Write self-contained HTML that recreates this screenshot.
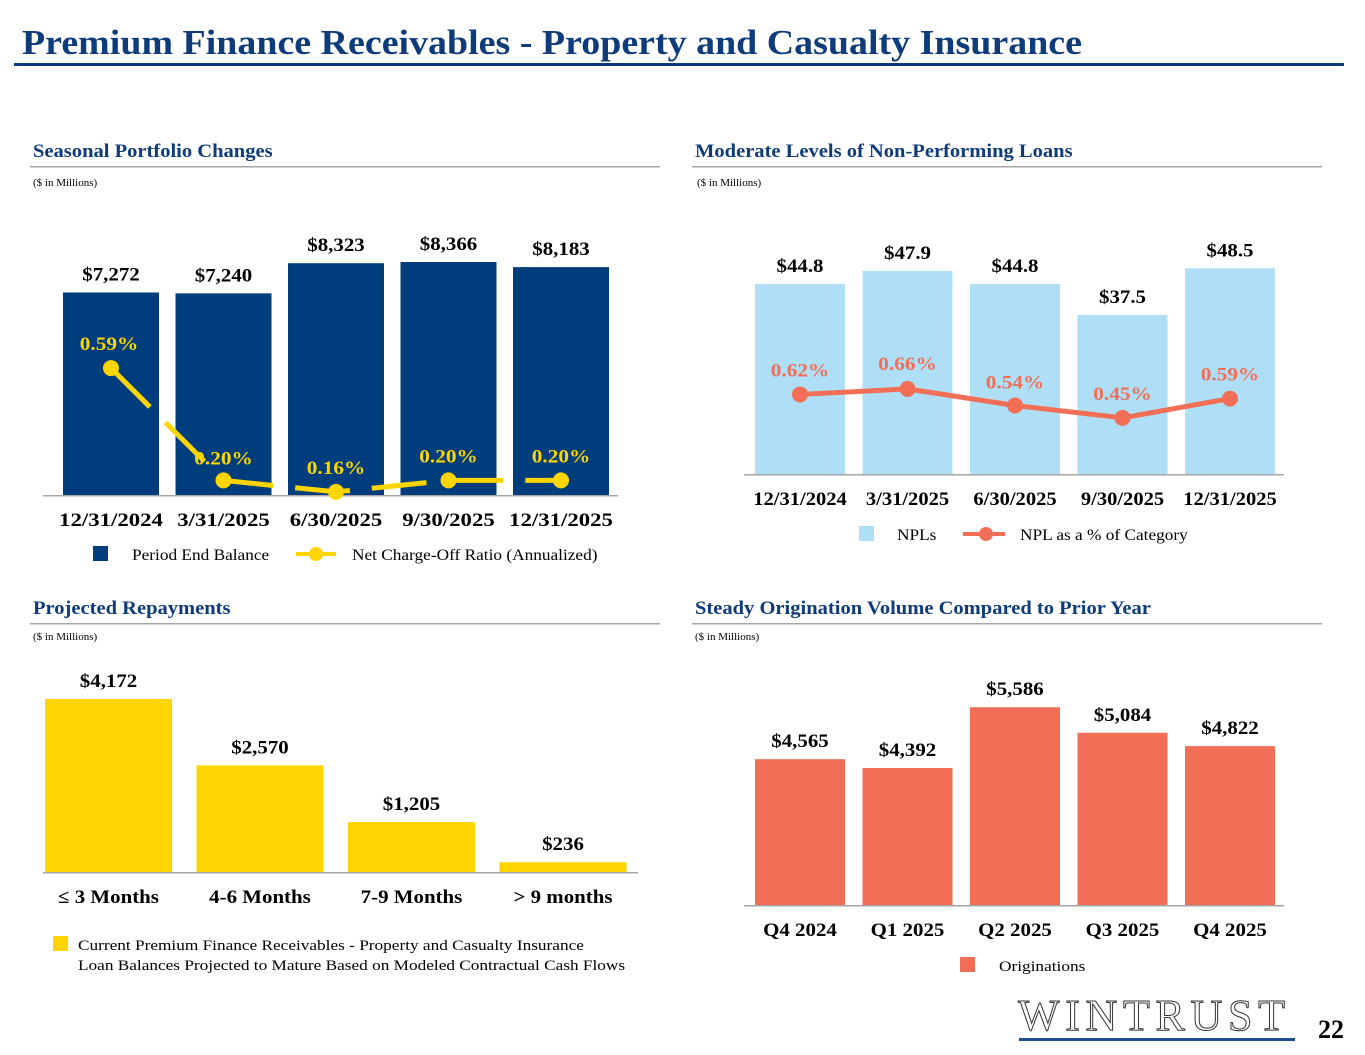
<!DOCTYPE html>
<html><head><meta charset="utf-8"><style>
body{margin:0;width:1365px;height:1055px;background:#fff;overflow:hidden;font-family:"Liberation Serif",serif}
svg{display:block}
</style></head><body>
<svg id="s" width="1365" height="1055">
<text x="22" y="54" font-size="35" font-weight="bold" fill="#0E3C7A" textLength="1060" lengthAdjust="spacingAndGlyphs">Premium Finance Receivables - Property and Casualty Insurance</text>
<rect x="14" y="63" width="1330" height="3" fill="#0E3C7A"/>
<g font-weight="bold" font-size="18.5" fill="#0E3C7A">
<text x="33" y="157" data-sx="1.11">Seasonal Portfolio Changes</text>
<text x="695" y="157" data-sx="1.11">Moderate Levels of Non-Performing Loans</text>
<text x="33" y="614" data-sx="1.11">Projected Repayments</text>
<text x="695" y="614" data-sx="1.11">Steady Origination Volume Compared to Prior Year</text>
</g>
<g fill="#A6A6A6"><rect x="30" y="166" width="630" height="1.5"/><rect x="692" y="166" width="630" height="1.5"/><rect x="30" y="623" width="630" height="1.5"/><rect x="692" y="623" width="630" height="1.5"/></g>
<g font-size="11" fill="#000">
<text x="33" y="186">($ in Millions)</text><text x="697" y="186">($ in Millions)</text>
<text x="33" y="640">($ in Millions)</text><text x="695" y="640">($ in Millions)</text>
</g>
<g id="c1"></g><g id="c2"></g><g id="c3"></g><g id="c4"></g>
<g font-size="16" fill="#000">
<rect x="93" y="546" width="15" height="15" fill="#003D7C"/><text x="132" y="560" data-sx="1.08">Period End Balance</text>
<line x1="296" y1="554" x2="336" y2="554" stroke="#FFD500" stroke-width="4"/><circle cx="316" cy="554" r="7" fill="#FFD500"/><text x="352" y="560" data-sx="1.08">Net Charge-Off Ratio (Annualized)</text>
<rect x="859" y="526" width="15" height="15" fill="#AEDFF7"/><text x="897" y="540" data-sx="1.08">NPLs</text>
<line x1="963" y1="534" x2="1005" y2="534" stroke="#F26E57" stroke-width="4"/><circle cx="986" cy="534" r="7" fill="#F26E57"/><text x="1020" y="540" data-sx="1.08">NPL as a % of Category</text>
<rect x="53" y="936" width="15" height="15" fill="#FFD500"/><text x="78" y="950" font-size="15" data-sx="1.15">Current Premium Finance Receivables - Property and Casualty Insurance</text><text x="78" y="970" font-size="15" data-sx="1.15">Loan Balances Projected to Mature Based on Modeled Contractual Cash Flows</text>
<rect x="960" y="957" width="15" height="15" fill="#F26E57"/><text x="999" y="971" font-size="15" data-sx="1.15">Originations</text>
</g>
<g>
<text x="1018" y="1030" font-size="44" fill="#fff" stroke="#333" stroke-width="1" letter-spacing="1" textLength="268">WINTRUST</text>
<rect x="1019" y="1038" width="276" height="3" fill="#1F4E8C"/>
<text x="1318" y="1038" font-size="26" font-weight="bold" fill="#000">22</text>
</g>
</svg>
<script>
const ns="http://www.w3.org/2000/svg";
function mk(p,t,a,txt){const e=document.createElementNS(ns,t);for(const k in a)e.setAttribute(k,a[k]);if(txt!=null)e.textContent=txt;p.appendChild(e);return e;}
// Chart 1
const c1Cats=["12/31/2024","3/31/2025","6/30/2025","9/30/2025","12/31/2025"];
const c1Bal=[7272,7240,8323,8366,8183];
const c1Nco=[0.59,0.20,0.16,0.20,0.20];
// Chart 2
const c2Cats=["12/31/2024","3/31/2025","6/30/2025","9/30/2025","12/31/2025"];
const c2Npl=[44.8,47.9,44.8,37.5,48.5];
const c2Pct=[0.62,0.66,0.54,0.45,0.59];
// Chart 3
const c3Cats=["≤ 3 Months","4-6 Months","7-9 Months","> 9 months"];
const c3Vals=[4172,2570,1205,236];
// Chart 4
const c4Cats=["Q4 2024","Q1 2025","Q2 2025","Q3 2025","Q4 2025"];
const c4Vals=[4565,4392,5586,5084,4822];
const fmt=v=>"$"+v.toLocaleString("en-US");

function bars(g,cats,vals,o){
  mk(g,"rect",{x:o.ax0,y:o.base,width:o.ax1-o.ax0,height:1.5,fill:"#A6A6A6"});
  cats.forEach((c,i)=>{
    const cx=o.x0+i*o.step, v=vals[i], h=(v-o.min)*o.k, y=o.base-h;
    const b=mk(g,"rect",{x:cx-o.w/2,y:y,width:o.w,height:h,fill:o.color});
    
    
    const t=mk(g,"text",{x:cx,y:y-12,"text-anchor":"middle","font-size":19,"font-weight":"bold","data-sx":"1.1"},o.f(v));
    
    
    const l=mk(g,"text",{x:cx,y:o.base+31,"text-anchor":"middle","font-size":19,"font-weight":"bold","data-sx":String(o.lsx)},c);
    
    
  });
}
function line(g,vals,o){
  const pts=vals.map((v,i)=>[o.x0+i*o.step,o.zero-v*o.k]);
  const p=mk(g,"polyline",{points:pts.map(p=>p.join(",")).join(" "),fill:"none",stroke:o.color,"stroke-width":5,"stroke-dasharray":o.dash||"none"});
  
  
  pts.forEach((q,i)=>{
    const c=mk(g,"circle",{cx:q[0],cy:q[1],r:8,fill:o.color});
    
    
    const t=mk(g,"text",{x:q[0]+(o.dx?o.dx[i]:0),y:q[1]+o.dy[i],"text-anchor":"middle","font-size":19,"font-weight":"bold",fill:o.color,"data-sx":"1.12"},vals[i].toFixed(2)+"%");
    
    
  });
}
const g1=document.getElementById("c1");
bars(g1,c1Cats,c1Bal,{ax0:43,ax1:618,base:495,x0:111,step:112.5,w:96,min:0,k:0.02785,color:"#003D7C",f:fmt,lsx:1.2});
line(g1,c1Nco,{x0:111,step:112.5,zero:538,k:288,color:"#FFD500",dash:"55 22",dy:[-18,-16,-18,-18,-18],dx:[-2,0,0,0,0]});
const g2=document.getElementById("c2");
bars(g2,c2Cats,c2Npl,{ax0:744,ax1:1284,base:474,x0:800,step:107.5,w:90,min:0,k:4.24,color:"#AEDFF7",f:v=>"$"+v.toFixed(1),lsx:1.08});
line(g2,c2Pct,{x0:800,step:107.5,zero:480,k:138,color:"#F26E57",dy:[-18,-19,-17,-18,-18]});
const g3=document.getElementById("c3");
bars(g3,c3Cats,c3Vals,{ax0:43,ax1:638,base:872,x0:108.5,step:151.5,w:127,min:0,k:0.04147,color:"#FFD500",f:fmt,lsx:1.1});
const g4=document.getElementById("c4");
bars(g4,c4Cats,c4Vals,{ax0:744,ax1:1284,base:905,x0:800,step:107.5,w:90,min:1700,k:0.0509,color:"#F26E57",f:fmt,lsx:1.1});
document.querySelectorAll("text[data-sx]").forEach(t=>{
  const w=t.getComputedTextLength()*parseFloat(t.getAttribute("data-sx"));
  t.setAttribute("textLength",w.toFixed(1));
  t.setAttribute("lengthAdjust","spacingAndGlyphs");
});
</script>
</body></html>
